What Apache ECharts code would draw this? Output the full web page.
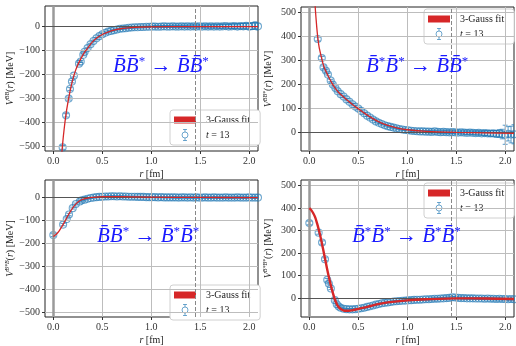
<!DOCTYPE html>
<html>
<head>
<meta charset="utf-8">
<script src="https://cdn.jsdelivr.net/npm/echarts@6/dist/echarts.min.js"></script>
<style>
html, body { margin: 0; padding: 0; background: #fff; }
#chart { width: 516px; height: 346px; }
</style>
</head>
<body>
<div id="chart"></div>
<script>
// shared dense r grid (fm) for the r > 0.3 part of every panel
var rGrid = [
  0.32, 0.35, 0.38, 0.41, 0.44, 0.47, 0.50, 0.53, 0.56, 0.59,
  0.62, 0.65, 0.68, 0.71, 0.74, 0.77, 0.80, 0.83, 0.86, 0.89,
  0.92, 0.95, 0.98, 1.01, 1.04, 1.07, 1.10, 1.13, 1.16, 1.19,
  1.22, 1.25, 1.28, 1.31, 1.34, 1.37, 1.40, 1.43, 1.46, 1.49,
  1.52, 1.55, 1.58, 1.61, 1.64, 1.67, 1.70, 1.73, 1.76, 1.79,
  1.82, 1.85, 1.88, 1.91, 1.94, 1.97, 2.00, 2.03, 2.06, 2.09
];

var xTicks = [0, 0.5, 1.0, 1.5, 2.0];
var yTicksNeg = [-500, -400, -300, -200, -100, 0];
var yTicksPos = [0, 100, 200, 300, 400, 500];

// top left: BB* -> BB*
var rLowTL = [0.095, 0.13, 0.157, 0.17, 0.19, 0.21, 0.262, 0.28, 0.306];
var vLowTL = [-505, -371, -301, -261, -230, -205, -155, -146, -118];
var eLowTL = [8, 7, 6, 6, 5, 5, 5, 4, 4];
var vGridTL = [
  -105, -90, -74, -60, -49, -40, -32, -26, -21, -18,
  -15, -12, -9, -8, -7, -5, -4, -3, -3, -2,
  -2, -1, -1, 0, 0, -1, 0, 1, 0, 0,
  1, 0, 0, 1, 0, 1, 0, 1, 0, 1,
  0, 1, 0, 1, 0, 1, 0, 1, 2, 0,
  1, 2, 0, 2, 1, 3, 0, 2, 4, 1
];
var eGridTL = [
  3, 3, 3, 3, 3, 3, 3, 3, 3, 3,
  3, 3, 3, 3, 3, 3, 3, 3, 3, 3,
  3, 3, 3, 3, 4, 4, 4, 4, 4, 4,
  5, 5, 5, 5, 5, 5, 6, 6, 6, 6,
  6, 6, 7, 7, 7, 7, 8, 8, 8, 9,
  9, 10, 10, 11, 12, 12, 13, 14, 15, 15
];
var fitRTL = [0.08, 0.095, 0.11, 0.13, 0.15, 0.17, 0.19, 0.21, 0.23, 0.25, 0.28, 0.31, 0.35, 0.40, 0.45, 0.50, 0.60, 0.70, 0.80, 0.90, 1.0, 1.2, 1.5, 2.09];
var fitVTL = [-560, -490, -430, -365, -315, -272, -235, -205, -180, -160, -135, -113, -90, -64, -46, -33, -17, -8, -4, -2, -1, 0, 0, 0];

// top right: B*B* -> BB*
var rLowTR = [0.086, 0.127, 0.145, 0.17, 0.19, 0.218, 0.24, 0.266, 0.29];
var vLowTR = [389, 309, 270, 256, 240, 215, 198, 184, 170];
var eLowTR = [8, 7, 6, 6, 5, 5, 5, 4, 4];
var vGridTR = [
  158, 148, 136, 126, 116, 106, 98, 88, 78, 68,
  60, 52, 44, 38, 33, 28, 24, 21, 18, 15,
  12, 10, 8, 7, 5, 4, 3, 2, 2, 1,
  1, 0, 2, 0, -1, 0, -1, -2, -1, -2,
  -3, -2, -3, -4, -3, -4, -5, -4, -6, -5,
  -6, -7, -6, -8, -7, -9, -12, -8, -11, -10
];
var eGridTR = [
  3, 3, 3, 3, 3, 3, 3, 3, 3, 3,
  3, 3, 3, 3, 3, 3, 3, 3, 3, 3,
  3, 3, 3, 3, 4, 4, 4, 4, 4, 4,
  5, 5, 5, 5, 5, 5, 6, 6, 6, 6,
  6, 6, 7, 7, 7, 7, 8, 8, 8, 10,
  10, 12, 12, 14, 16, 20, 40, 30, 35, 40
];
var fitRTR = [0.05, 0.06, 0.07, 0.08, 0.09, 0.10, 0.12, 0.14, 0.16, 0.18, 0.20, 0.23, 0.26, 0.30, 0.35, 0.40, 0.45, 0.50, 0.55, 0.60, 0.70, 0.80, 0.90, 1.0, 1.2, 1.5, 1.8, 2.09];
var fitVTR = [640, 525, 468, 420, 383, 355, 318, 285, 262, 245, 228, 205, 185, 165, 146, 128, 112, 97, 82, 68, 44, 27, 16, 9, 2, -2, -4, -6];

// bottom left: BB* -> B*B*
var rLowBL = [0.0, 0.10, 0.137, 0.16, 0.198, 0.23, 0.27, 0.29];
var vLowBL = [-164, -118, -94, -74, -46, -28, -17, -12];
var eLowBL = [6, 5, 5, 5, 4, 4, 3, 3];
var vGridBL = [
  -9, -5, -2, 0, 2, 3, 4, 5, 5, 6,
  6, 5, 6, 5, 5, 4, 4, 4, 3, 3,
  3, 2, 2, 2, 2, 1, 2, 1, 1, 1,
  1, 1, 0, 1, 1, 0, 1, 0, 1, 0,
  0, 1, 0, 0, 1, 0, 0, 0, 1, 0,
  0, 0, 1, 0, 0, 0, 1, 0, 0, 0
];
var eGridBL = [
  2, 2, 2, 2, 2, 2, 2, 2, 2, 2,
  2, 2, 2, 2, 2, 2, 2, 2, 2, 2,
  2, 2, 2, 2, 2, 2, 2, 2, 2, 2,
  3, 3, 3, 3, 3, 3, 3, 3, 3, 3,
  3, 3, 3, 3, 3, 3, 3, 3, 3, 3,
  3, 3, 3, 3, 3, 3, 3, 3, 3, 3
];
var fitRBL = [0.0, 0.03, 0.06, 0.09, 0.12, 0.15, 0.18, 0.21, 0.24, 0.27, 0.30, 0.35, 0.40, 0.50, 0.70, 1.0, 1.5, 2.09];
var fitVBL = [-170, -160, -145, -125, -102, -78, -57, -38, -24, -14, -8, -2, 1, 4, 4, 2, 1, 0];

// bottom right: B*B* -> B*B*
var rLowBR = [0.0, 0.095, 0.13, 0.16, 0.183, 0.20, 0.22, 0.26, 0.28, 0.30];
var vLowBR = [333, 290, 246, 172, 80, 63, 42, -10, -28, -38];
var eLowBR = [8, 7, 7, 6, 6, 5, 5, 4, 4, 4];
var vGridBR = [
  -44, -48, -50, -51, -51, -50, -48, -46, -44, -40,
  -37, -34, -30, -27, -24, -22, -20, -18, -16, -15,
  -14, -13, -12, -11, -10, -9, -8, -8, -7, -6,
  -6, -5, -4, -4, -3, -2, -1, 0, 3, 2,
  0, -1, -1, -2, -2, -2, -3, -3, -3, -4,
  -3, -4, -4, -5, -4, -5, -5, -6, -5, -6
];
var eGridBR = [
  3, 3, 3, 3, 3, 3, 3, 3, 3, 3,
  3, 3, 3, 3, 3, 3, 3, 3, 3, 3,
  3, 3, 3, 3, 3, 3, 3, 3, 3, 3,
  4, 4, 4, 4, 4, 4, 4, 4, 4, 4,
  4, 4, 4, 4, 4, 4, 4, 4, 4, 4,
  4, 4, 4, 4, 4, 4, 4, 4, 4, 4
];
var fitRBR = [0.0, 0.02, 0.04, 0.06, 0.08, 0.10, 0.12, 0.14, 0.16, 0.18, 0.20, 0.22, 0.24, 0.26, 0.28, 0.30, 0.33, 0.36, 0.40, 0.45, 0.50, 0.60, 0.70, 0.80, 1.0, 1.2, 1.5, 1.8, 2.09];
var fitVBR = [399, 390, 376, 358, 330, 297, 260, 218, 175, 132, 92, 55, 22, -6, -27, -41, -52, -57, -57, -54, -49, -39, -28, -20, -11, -6, -2, -3, -5];

var dashedR = 1.45;

var BLUE = 'rgba(31,119,180,0.8)';
var RED = '#d62728';
var SERIF = '"Liberation Serif", "DejaVu Serif", serif';

var panels = [
  { grid: { left: 45, top: 6, width: 213, height: 145 }, yMin: -520, yMax: 86, yTicks: yTicksNeg, sup: 'BB',
    rLow: rLowTL, vLow: vLowTL, eLow: eLowTL, vGrid: vGridTL, eGrid: eGridTL, fitR: fitRTL, fitV: fitVTL, fitW: 1.3 },
  { grid: { left: 301, top: 7, width: 213, height: 144 }, yMin: -80, yMax: 523, yTicks: yTicksPos, sup: 'BB*',
    rLow: rLowTR, vLow: vLowTR, eLow: eLowTR, vGrid: vGridTR, eGrid: eGridTR, fitR: fitRTR, fitV: fitVTR, fitW: 1.3 },
  { grid: { left: 45, top: 180, width: 213, height: 143 }, yMin: -522, yMax: 77, yTicks: yTicksNeg, sup: 'B*B',
    rLow: rLowBL, vLow: vLowBL, eLow: eLowBL, vGrid: vGridBL, eGrid: eGridBL, fitR: fitRBL, fitV: fitVBL, fitW: 1.3 },
  { grid: { left: 301, top: 180, width: 213, height: 143 }, yMin: -85, yMax: 524, yTicks: yTicksPos, sup: 'B*B*',
    rLow: rLowBR, vLow: vLowBR, eLow: eLowBR, vGrid: vGridBR, eGrid: eGridBR, fitR: fitRBR, fitV: fitVBR, fitW: 2.4 }
];

function fmtY(v) {
  return v < 0 ? '\u2212' + (-v) : String(v);
}

function renderErr(params, api) {
  var x = api.value(0), y = api.value(1), e = api.value(2);
  var hi = api.coord([x, y + e]);
  var lo = api.coord([x, y - e]);
  var w = 2.5;
  var st = { stroke: BLUE, lineWidth: 0.9 };
  return {
    type: 'group',
    children: [
      { type: 'line', shape: { x1: hi[0], y1: hi[1], x2: lo[0], y2: lo[1] }, style: st },
      { type: 'line', shape: { x1: hi[0] - w, y1: hi[1], x2: hi[0] + w, y2: hi[1] }, style: st },
      { type: 'line', shape: { x1: lo[0] - w, y1: lo[1], x2: lo[0] + w, y2: lo[1] }, style: st }
    ]
  };
}

var grids = [], xAxes = [], yAxes = [], series = [];

panels.forEach(function (p, i) {
  grids.push(Object.assign({ show: true, borderColor: '#222', borderWidth: 1, backgroundColor: '#fff' }, p.grid));

  xAxes.push({
    type: 'value', gridIndex: i, min: -0.085, max: 2.09,
    name: '{i|r} [fm]', nameLocation: 'middle', nameGap: 18,
    nameTextStyle: { fontFamily: SERIF, fontSize: 10, color: '#222',
      rich: { i: { fontFamily: SERIF, fontStyle: 'italic', fontSize: 10, color: '#222' } } },
    axisLine: { show: false, onZero: false },
    axisTick: { show: true, customValues: xTicks, length: 3, lineStyle: { color: '#333' } },
    axisLabel: { customValues: xTicks, margin: 5, fontFamily: SERIF, fontSize: 10, color: '#333',
      formatter: function (v) { return v.toFixed(1); } },
    splitLine: { show: false }
  });

  yAxes.push({
    type: 'value', gridIndex: i, min: p.yMin, max: p.yMax,
    name: '{v|V}{s|' + p.sup + '}{n|(}{v|r}{n|) [MeV]}', nameLocation: 'middle', nameGap: 27, nameRotate: 90,
    nameTextStyle: { rich: {
      v: { fontFamily: SERIF, fontStyle: 'italic', fontSize: 10, color: '#222' },
      n: { fontFamily: SERIF, fontSize: 10, color: '#222' },
      s: { fontFamily: SERIF, fontStyle: 'italic', fontSize: 6, color: '#222', padding: [0, 0, 6, 0] }
    } },
    axisLine: { show: false, onZero: false },
    axisTick: { show: true, customValues: p.yTicks, length: 3, lineStyle: { color: '#333' } },
    axisLabel: { customValues: p.yTicks, margin: 5, fontFamily: SERIF, fontSize: 10, color: '#333', formatter: fmtY },
    splitLine: { show: false }
  });

  var gridLines = [];
  xTicks.forEach(function (t) {
    if (t !== 0) gridLines.push({ xAxis: t, lineStyle: { color: '#bdbdbd', width: 1, type: 'solid' } });
  });
  p.yTicks.forEach(function (t) {
    if (t !== 0) gridLines.push({ yAxis: t, lineStyle: { color: '#bdbdbd', width: 1, type: 'solid' } });
  });
  gridLines.push({ xAxis: 0, lineStyle: { color: '#9a9a9a', width: 2.5, type: 'solid' } });
  gridLines.push({ yAxis: 0, lineStyle: { color: '#555', width: 1, type: 'solid' } });
  gridLines.push({ xAxis: dashedR, lineStyle: { color: '#888', width: 1, type: [4, 2] } });

  // reference grid lines
  series.push({
    type: 'line', xAxisIndex: i, yAxisIndex: i, data: [], silent: true, z: 1,
    markLine: { silent: true, symbol: 'none', label: { show: false }, animation: false, data: gridLines }
  });

  var pts = [];
  p.rLow.forEach(function (r, k) { pts.push([r, p.vLow[k], p.eLow[k]]); });
  rGrid.forEach(function (r, k) { pts.push([r, p.vGrid[k], p.eGrid[k]]); });

  series.push({
    type: 'custom', xAxisIndex: i, yAxisIndex: i, clip: true, z: 3, silent: true,
    renderItem: renderErr, data: pts, encode: { x: 0, y: 1 }
  });
  series.push({
    name: 't = 13', type: 'scatter', xAxisIndex: i, yAxisIndex: i, clip: true, z: 4, silent: true,
    symbol: 'circle', symbolSize: 7,
    itemStyle: { color: 'rgba(0,0,0,0)', borderColor: BLUE, borderWidth: 1.1 },
    data: pts.map(function (d) { return [d[0], d[1]]; })
  });
  series.push({
    name: '3-Gauss fit', type: 'line', xAxisIndex: i, yAxisIndex: i, clip: true, z: 5, silent: true,
    showSymbol: false, smooth: 0.3, animation: false,
    itemStyle: { color: RED }, lineStyle: { color: RED, width: p.fitW },
    data: p.fitR.map(function (r, k) { return [r, p.fitV[k]]; })
  });
});

var legendPos = [
  { left: 170, top: 110 },
  { left: 424, top: 9 },
  { left: 170, top: 285 },
  { left: 424, top: 183 }
];

var legends = legendPos.map(function (pos) {
  return Object.assign({
    orient: 'vertical', itemGap: 4, itemWidth: 22, itemHeight: 11, padding: [5, 10, 4, 4],
    backgroundColor: '#fff', borderColor: '#d0d0d0', borderWidth: 1, borderRadius: 3,
    selectedMode: false,
    textStyle: { fontFamily: SERIF, fontSize: 10, color: '#222', padding: [0, 0, 0, 5],
      rich: { i: { fontFamily: SERIF, fontStyle: 'italic', fontSize: 10, color: '#222' } } },
    formatter: function (name) { return name === 't = 13' ? '{i|t} = 13' : name; },
    data: [
      { name: '3-Gauss fit', icon: 'path://M0,0 L22,0 L22,7 L0,7 Z', itemStyle: { color: RED } },
      { name: 't = 13', icon: 'path://M3,0 L7,0 M5,0 L5,2.5 M5,8.5 L5,11 M3,11 L7,11 M8,5.5 A3,3 0 1 0 2,5.5 A3,3 0 1 0 8,5.5',
        itemStyle: { color: 'rgba(0,0,0,0)', borderColor: BLUE, borderWidth: 1 } }
    ]
  }, pos);
});

var labelRich = {
  b: { fontFamily: SERIF, fontStyle: 'italic', fontSize: 21, fill: '#1a1aff' },
  s: { fontFamily: SERIF, fontSize: 13, fill: '#1a1aff', padding: [0, 0, 9, 0] },
  a: { fontFamily: SERIF, fontSize: 21, fill: '#1a1aff' }
};
var labels = [
  { left: 113, top: 55, text: '{b|B\u0304B\u0304}{s|*}{a| \u2192 }{b|B\u0304B\u0304}{s|*}' },
  { left: 366, top: 55, text: '{b|B\u0304}{s|*}{b|B\u0304}{s|*}{a| \u2192 }{b|B\u0304B\u0304}{s|*}' },
  { left: 97, top: 225, text: '{b|B\u0304B\u0304}{s|*}{a| \u2192 }{b|B\u0304}{s|*}{b|B\u0304}{s|*}' },
  { left: 352, top: 225, text: '{b|B\u0304}{s|*}{b|B\u0304}{s|*}{a| \u2192 }{b|B\u0304}{s|*}{b|B\u0304}{s|*}' }
];

var option = {
  animation: false,
  backgroundColor: '#fff',
  grid: grids,
  xAxis: xAxes,
  yAxis: yAxes,
  legend: legends,
  series: series,
  graphic: labels.map(function (l) {
    return { type: 'text', left: l.left, top: l.top, z: 10, silent: true,
      style: { text: l.text, rich: labelRich } };
  })
};

var myChart = echarts.init(document.getElementById('chart'), null, { renderer: 'canvas' });
myChart.setOption(option);
</script>
</body>
</html>
